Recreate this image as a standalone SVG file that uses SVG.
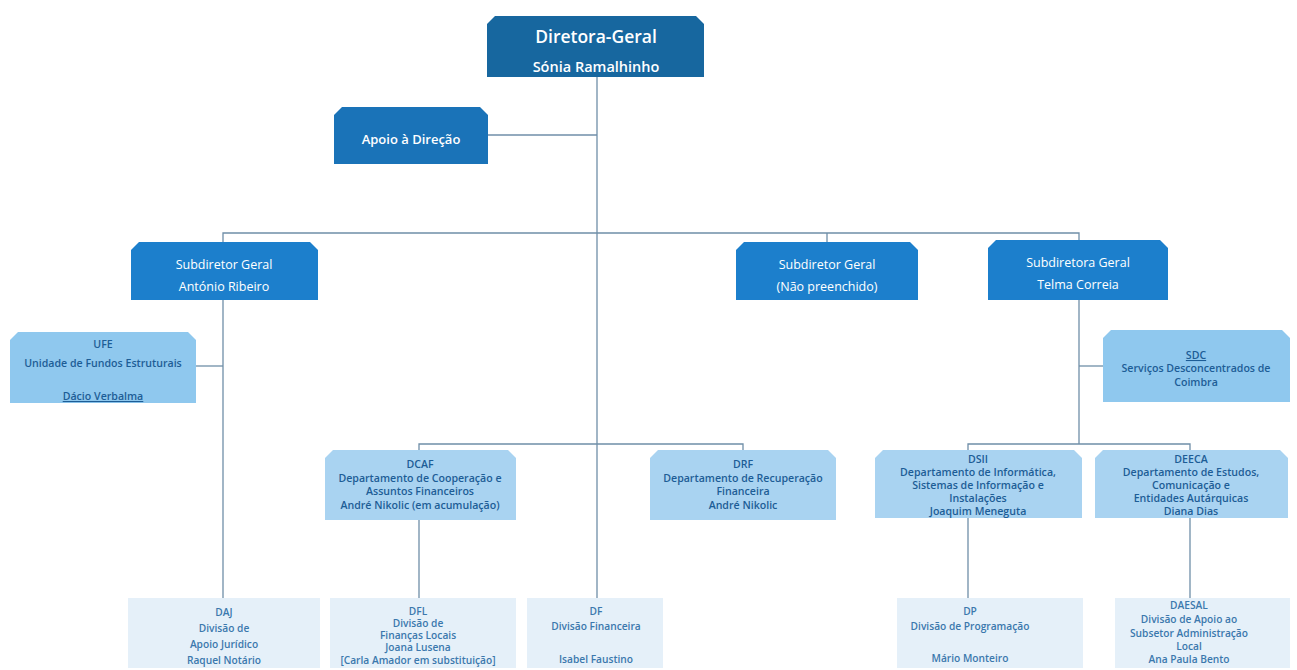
<svg xmlns="http://www.w3.org/2000/svg" width="1297" height="670" viewBox="0 0 1297 670">
<style>
.dk{fill:#17679f}
.md{fill:#1a73b8}
.br{fill:#1c7fcc}
.lt{fill:#8fc8ee}
.lt2{fill:#a9d3f1}
.pl{fill:#e5f0f9}
.ln{stroke:#6f8ea8;stroke-width:1.3;fill:none}
text{font-family:"Open Sans","Liberation Sans",sans-serif;text-anchor:middle}
.w{fill:#ffffff;font-weight:600}
.s{font-size:12.5px;font-weight:400}
.d{fill:#1d5d96;font-weight:600;font-size:10.6px}
.dl{fill:#3b78ad;font-weight:600;font-size:10.2px}
</style>
<rect width="1297" height="670" fill="#ffffff"/>
<g id="connectors">
<path class="ln" d="M597 77 V598"/>
<path class="ln" d="M488 135 H597"/>
<path class="ln" d="M223 242 V233 H1079 V240"/>
<path class="ln" d="M827 233 V242"/>
<path class="ln" d="M223 300 V598"/>
<path class="ln" d="M196 366 H223"/>
<path class="ln" d="M1079 300 V444"/>
<path class="ln" d="M1079 366 H1103"/>
<path class="ln" d="M419 450 V444 H743 V450"/>
<path class="ln" d="M419 520 V598"/>
<path class="ln" d="M968 450 V444 H1190 V450"/>
<path class="ln" d="M968 518 V598"/>
<path class="ln" d="M1190 518 V598"/>
</g>
<g id="diretora-geral">
<path class="dk" d="M495 16 H696 L704 24 V77 H487 V24 Z"/>
<text class="w" x="596" y="43" font-size="17.5">Diretora-Geral</text>
<text class="w" x="596" y="72" font-size="14.5" font-weight="700">Sónia Ramalhinho</text>
</g>
<g id="apoio-direcao">
<path class="md" d="M342 107 H480 L488 115 V164 H334 V115 Z"/>
<text class="w" x="411" y="144" font-size="13" font-weight="400">Apoio à Direção</text>
</g>
<g id="subdiretor-antonio">
<path class="br" d="M139 242 H310 L318 250 V300 H131 V250 Z"/>
<text class="w s" x="224" y="269">Subdiretor Geral</text>
<text class="w s" x="224" y="291">António Ribeiro</text>
</g>
<g id="subdiretor-vago">
<path class="br" d="M744 242 H910 L918 250 V300 H736 V250 Z"/>
<text class="w s" x="827" y="269">Subdiretor Geral</text>
<text class="w s" x="827" y="291">(Não preenchido)</text>
</g>
<g id="subdiretora-telma">
<path class="br" d="M996 240 H1160 L1168 248 V300 H988 V248 Z"/>
<text class="w s" x="1078" y="267">Subdiretora Geral</text>
<text class="w s" x="1078" y="289">Telma Correia</text>
</g>
<g id="ufe">
<path class="lt" d="M18 332 H188 L196 340 V403 H10 V340 Z"/>
<text class="d" x="103" y="348" font-weight="700">UFE</text>
<text class="d" x="103" y="367">Unidade de Fundos Estruturais</text>
<text class="d" x="103" y="400" text-decoration="underline">Dácio Verbalma</text>
</g>
<g id="sdc">
<path class="lt" d="M1111 330 H1282 L1290 338 V402 H1103 V338 Z"/>
<text class="d" x="1196" y="359" font-weight="700" text-decoration="underline">SDC</text>
<text class="d" x="1196" y="372">Serviços Desconcentrados de</text>
<text class="d" x="1196" y="386">Coimbra</text>
</g>
<g id="dcaf">
<path class="lt2" d="M333 450 H508 L516 458 V520 H325 V458 Z"/>
<text class="d" x="420" y="468" font-weight="700">DCAF</text>
<text class="d" x="420" y="482">Departamento de Cooperação e</text>
<text class="d" x="420" y="495">Assuntos Financeiros</text>
<text class="d" x="420" y="509">André Nikolic (em acumulação)</text>
</g>
<g id="drf">
<path class="lt2" d="M658 450 H828 L836 458 V520 H650 V458 Z"/>
<text class="d" x="743" y="468" font-weight="700">DRF</text>
<text class="d" x="743" y="482">Departamento de Recuperação</text>
<text class="d" x="743" y="495">Financeira</text>
<text class="d" x="743" y="509">André Nikolic</text>
</g>
<g id="dsii">
<path class="lt2" d="M883 450 H1074 L1082 458 V518 H875 V458 Z"/>
<text class="d" x="978" y="463" font-weight="700">DSII</text>
<text class="d" x="978" y="476" font-size="11.5">Departamento de Informática,</text>
<text class="d" x="978" y="489" font-size="11.5">Sistemas de Informação e</text>
<text class="d" x="978" y="502" font-size="11.5">Instalações</text>
<text class="d" x="978" y="515" font-size="11.5">Joaquim Meneguta</text>
</g>
<g id="deeca">
<path class="lt2" d="M1103 450 H1280 L1288 458 V518 H1095 V458 Z"/>
<text class="d" x="1191" y="463" font-weight="700">DEECA</text>
<text class="d" x="1191" y="476">Departamento de Estudos,</text>
<text class="d" x="1191" y="489">Comunicação e</text>
<text class="d" x="1191" y="502">Entidades Autárquicas</text>
<text class="d" x="1191" y="515">Diana Dias</text>
</g>
<g id="daj">
<rect class="pl" x="128" y="598" width="192" height="70"/>
<text class="dl" x="224" y="616">DAJ</text>
<text class="dl" x="224" y="632">Divisão de</text>
<text class="dl" x="224" y="648">Apoio Jurídico</text>
<text class="dl" x="224" y="664">Raquel Notário</text>
</g>
<g id="dfl">
<rect class="pl" x="330" y="598" width="186" height="70"/>
<text class="dl" x="418" y="615">DFL</text>
<text class="dl" x="418" y="627">Divisão de</text>
<text class="dl" x="418" y="639">Finanças Locais</text>
<text class="dl" x="418" y="651">Joana Lusena</text>
<text class="dl" x="418" y="664">[Carla Amador em substituição]</text>
</g>
<g id="df">
<rect class="pl" x="527" y="598" width="136" height="70"/>
<text class="dl" x="596" y="615">DF</text>
<text class="dl" x="596" y="630">Divisão Financeira</text>
<text class="dl" x="596" y="663">Isabel Faustino</text>
</g>
<g id="dp">
<rect class="pl" x="897" y="598" width="186" height="70"/>
<text class="dl" x="970" y="615">DP</text>
<text class="dl" x="970" y="630">Divisão de Programação</text>
<text class="dl" x="970" y="662">Mário Monteiro</text>
</g>
<g id="daesal">
<rect class="pl" x="1115" y="598" width="175" height="70"/>
<text class="dl" x="1189" y="609">DAESAL</text>
<text class="dl" x="1189" y="623">Divisão de Apoio ao</text>
<text class="dl" x="1189" y="637">Subsetor Administração</text>
<text class="dl" x="1189" y="650">Local</text>
<text class="dl" x="1189" y="663">Ana Paula Bento</text>
</g>
</svg>
